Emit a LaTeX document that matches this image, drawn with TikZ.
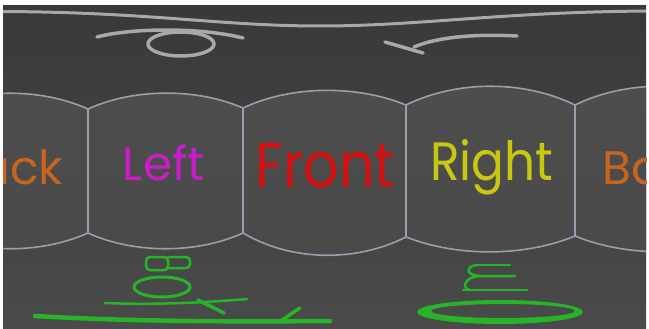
\documentclass[tikz,border=0pt]{standalone}
\usepackage{fontspec}
\newfontfamily\facefont{Poppins}
\definecolor{bgtop}{HTML}{393939}
\definecolor{bgbot}{HTML}{4A4A4A}
\definecolor{facetop}{HTML}{4D4D4D}
\definecolor{facebot}{HTML}{4A4A4A}
\definecolor{edgecol}{HTML}{9A9EAE}
\definecolor{inkgray}{HTML}{A8A8A8}
\definecolor{inkgreen}{HTML}{28B428}
\definecolor{cmag}{HTML}{C81EC8}
\definecolor{cred}{HTML}{D41010}
\definecolor{cyel}{HTML}{C8C814}
\definecolor{corg}{HTML}{C8641E}
\tikzset{
  edge/.style={draw=edgecol, line width=1.6pt},
  topink/.style={draw=inkgray, line width=3.5pt, line cap=round},
  botink/.style={draw=inkgreen, line width=3pt, line cap=round},
  facelabel/.style={inner sep=0pt, anchor=base},
}
\begin{document}
\begin{tikzpicture}[x=1pt,y=-1pt]
\useasboundingbox (0,0) rectangle (649,329);
\fill[white] (0,0) rectangle (649,329);
\shade[top color=bgtop, bottom color=bgbot] (3,6) rectangle (646,329);
\begin{scope}
\clip (3,6) rectangle (646,329);
% faces fill
\shade[top color=facetop, bottom color=facebot]
  (-67,109) .. controls (-20,88) and (41,88) .. (88,109)
  .. controls (134,88) and (197,88) .. (243,108)
  .. controls (292,85) and (357,85) .. (406,105)
  .. controls (457,80) and (524,80) .. (575,105)
  .. controls (626,80) and (694,80) .. (745,105)
  -- (745,236)
  .. controls (694,257) and (626,257) .. (575,236)
  .. controls (524,257) and (457,257) .. (406,237)
  .. controls (357,262) and (292,262) .. (243,233)
  .. controls (197,254) and (134,254) .. (88,233)
  .. controls (41,254) and (-20,254) .. (-67,233) -- cycle;
% face edges
\draw[edge]
  (-67,109) .. controls (-20,88) and (41,88) .. (88,109)
  .. controls (134,88) and (197,88) .. (243,108)
  .. controls (292,85) and (357,85) .. (406,105)
  .. controls (457,80) and (524,80) .. (575,105)
  .. controls (626,80) and (694,80) .. (745,105);
\draw[edge]
  (745,236) .. controls (694,257) and (626,257) .. (575,236)
  .. controls (524,257) and (457,257) .. (406,237)
  .. controls (357,262) and (292,262) .. (243,233)
  .. controls (197,254) and (134,254) .. (88,233)
  .. controls (41,254) and (-20,254) .. (-67,233);
\draw[edge] (88,109) -- (88,233);
\draw[edge] (243,108) -- (243,233);
\draw[edge] (406,105) -- (406,237);
\draw[edge] (575,105) -- (575,236);
% labels
\node[facelabel, anchor=base east, text=corg, font=\facefont\fontsize{47}{47}\selectfont] (back) at (63,185) {Back};
\node[facelabel, text=cmag, font=\facefont\fontsize{47}{47}\selectfont] (left) at (164,180) {Left};
\node[facelabel, text=cred, font=\facefont\fontsize{63}{63}\selectfont, xscale=0.88] (front) at (325,187) {Front};
\node[facelabel, text=cyel, font=\facefont\fontsize{54}{54}\selectfont, xscale=0.9] (right) at (492,180) {Right};
\node[facelabel, anchor=base west, text=corg, font=\facefont\fontsize{47}{47}\selectfont] (back2) at (602,185) {Back};
% top line and distorted "Top"
\draw[draw=inkgray, line width=3pt] (0,11.5) .. controls (150,12) and (220,26) .. (320,26) .. controls (420,26) and (500,12) .. (649,11);
\draw[topink] (97,37) .. controls (130,28) and (200,27) .. (243,38);
\draw[topink] (181,44) ellipse [x radius=33, y radius=12];
\draw[topink] (517,36) .. controls (480,34) and (440,36) .. (414,47);
\draw[topink] (385,42) -- (423,53);
% distorted "Bottom"
\draw[botink, line width=2.5pt, rounded corners=4pt] (146,257) -- (168,257) -- (168,270) -- (146,270) -- cycle;
\draw[botink, line width=2.5pt, rounded corners=4pt] (168,257) -- (190,257) -- (190,268) -- (168,268);
\draw[botink] (162,287) ellipse [x radius=28, y radius=10];
\draw[botink, line width=2.5pt] (105,303) .. controls (150,305) and (200,303) .. (247,299);
\draw[botink, line width=3.5pt] (198,300) -- (224,313);
\draw[botink, line width=4.5pt] (35,316) .. controls (120,321) and (220,322) .. (330,321);
\draw[botink, line width=3.5pt] (282,320) -- (300,308);
\draw[botink, line width=2.5pt] (477,265) -- (510,265);
\draw[botink, line width=2.5pt] (477,265) .. controls (465,266) and (466,276) .. (480,276) -- (515,276);
\draw[botink, line width=2.5pt] (480,276) .. controls (463,277) and (462,289) .. (470,290);
\draw[botink, line width=2.5pt] (463,290) -- (527,290);
\fill[inkgreen, even odd rule] (500,312) ellipse [x radius=83, y radius=12] (503,311) ellipse [x radius=72, y radius=7];
\end{scope}
\end{tikzpicture}
\end{document}
